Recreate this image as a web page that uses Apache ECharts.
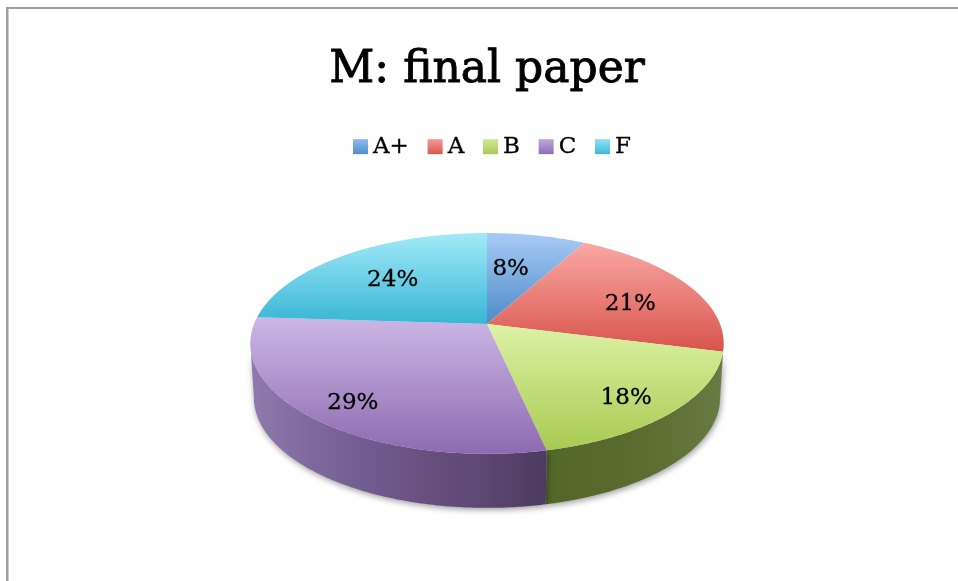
<!DOCTYPE html>
<html>
<head>
<meta charset="utf-8">
<style>html,body{margin:0;padding:0;background:#fff}#c{width:958px;height:581px}</style>
<script src="https://cdn.jsdelivr.net/npm/echarts@6/dist/echarts.min.js"></script>
</head>
<body>
<div id="c"></div>
<script>
const categories = ['A+', 'A', 'B', 'C', 'F'];
const values = [8, 21, 17.6, 29.4, 24];
const titleText = 'M: final paper';

const topColors = [
  ['#a9cbf4', '#4c8bca'], ['#faa8a4', '#d8544c'], ['#dcf2a4', '#a8ca52'],
  ['#cbb7e6', '#8d6ab0'], ['#a2eaf8', '#38b6d4']
];
const wallStops = [
  [['#4f7fb5', 1]], [['#9a3f3a', 1]],
  [['#54672a', 0], ['#58692d', .4], ['#5f7135', .7], ['#687b44', 1]],
  [['#8f7aae', 0], ['#7f6a9e', .2], ['#6f5a8e', .42], ['#67507f', .6], ['#5c4672', .8], ['#4c3a60', 1]],
  [['#3a9ab3', 1]]
];
const legendColors = [
  ['#8fbaee', '#4f8ecb'], ['#f59a96', '#d9564e'], ['#d0e896', '#a8ca55'],
  ['#bda6dc', '#8f6db2'], ['#90e2f4', '#3cb8d6']
];
const labelNudgeX = [-8, 6, -6, 4, -1];
const labelNudgeY = [-2, 3, 1, 1, -2];

const total = values.reduce((a, b) => a + b, 0);
const CX = 487, CY = 324, R = 233, RY = 107, K = 0.176, DEPTH = 54, WALL_SCALE = 0.985;

function project(theta, f, scale, dy) {
  const u = Math.sin(theta) * f, v = Math.cos(theta) * f, d = 1 + K * v;
  return [CX + R * scale * u / d, CY + dy - RY * v / d];
}
function vGrad(c) {
  return { type: 'linear', x: 0, y: 0, x2: 0, y2: 1, colorStops: [{ offset: 0, color: c[0] }, { offset: 1, color: c[1] }] };
}
function hGrad(stops) {
  return { type: 'linear', x: 0, y: 0, x2: 1, y2: 0, colorStops: stops.map(s => ({ offset: s[1], color: s[0] })) };
}
const TAU = Math.PI * 2, WALL_FROM = 100 / 360 * TAU, WALL_TO = 260 / 360 * TAU;

function sliceItem(index) {
  return function (params, api) {
    let before = 0;
    for (let i = 0; i < index; i++) before += values[i];
    const a0 = before / total * TAU, a1 = (before + api.value(0)) / total * TAU;
    const steps = Math.max(8, Math.ceil((a1 - a0) / 0.01));
    const top = [project(0, 0, 1, 0)];
    for (let i = 0; i <= steps; i++) top.push(project(a0 + (a1 - a0) * i / steps, 1, 1, 0));
    const children = [];
    const w0 = Math.max(a0, WALL_FROM), w1 = Math.min(a1, WALL_TO);
    if (w1 > w0) {
      const upper = [], lower = [];
      const n = Math.max(4, Math.ceil((w1 - w0) / 0.01));
      for (let i = 0; i <= n; i++) {
        const t = w0 + (w1 - w0) * i / n;
        upper.push(project(t, 1, 1, 0));
        lower.unshift(project(t, 1, WALL_SCALE, DEPTH));
      }
      children.push({
        type: 'polygon', z2: 1, shape: { points: upper.concat(lower) },
        style: { fill: hGrad(wallStops[index]), shadowBlur: 6, shadowColor: 'rgba(0,0,0,0.4)', shadowOffsetX: 1, shadowOffsetY: 2 }
      });
    }
    children.push({ type: 'polygon', z2: 10, shape: { points: top }, style: { fill: vGrad(topColors[index]) } });
    const mid = (a0 + a1) / 2;
    const p = project(mid, 0.72 - 0.12 * Math.cos(mid), 1, 4);
    children.push({
      type: 'text', z2: 20, x: p[0] + labelNudgeX[index], y: p[1] + labelNudgeY[index],
      style: {
        text: Math.round(api.value(0) / total * 100) + '%',
        align: 'center', verticalAlign: 'middle',
        font: '23px "DejaVu Serif"', fill: '#000', stroke: '#000', lineWidth: 0.3
      }
    });
    return { type: 'group', children };
  };
}

const chart = echarts.init(document.getElementById('c'), null, { renderer: 'canvas' });
chart.setOption({
  animation: false,
  backgroundColor: '#fff',
  title: {
    text: titleText, left: 482, top: 44, textAlign: 'center',
    textStyle: { fontFamily: 'DejaVu Serif', fontWeight: 'normal', fontSize: 44, color: '#000', textBorderColor: '#000', textBorderWidth: 0.9 }
  },
  legend: {
    left: 348, top: 130, itemWidth: 15, itemHeight: 15, itemGap: 18.6, icon: 'rect',
    textStyle: { fontFamily: 'DejaVu Serif', fontSize: 23, color: '#000', textBorderColor: '#000', textBorderWidth: 0.3 },
    data: categories.map((name, i) => ({ name, itemStyle: { color: vGrad(legendColors[i]) } }))
  },
  graphic: [
    { type: 'rect', silent: true, shape: { x: 6, y: 7, width: 952, height: 2 }, style: { fill: '#a0a0a0' } },
    { type: 'rect', silent: true, shape: { x: 6, y: 7, width: 2.5, height: 574 }, style: { fill: '#a0a0a0' } }
  ],
  series: categories.map((name, i) => ({
    type: 'custom', name, coordinateSystem: 'none',
    itemStyle: { color: legendColors[i][1] },
    data: [[values[i]]],
    renderItem: sliceItem(i)
  }))
});
</script>
</body>
</html>
